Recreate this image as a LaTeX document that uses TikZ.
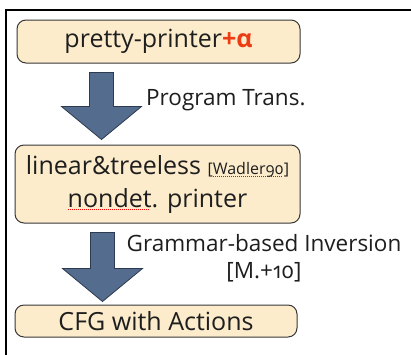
\documentclass[tikz,border=0pt]{standalone}
\usepackage{fontspec}
\setmainfont{Open Sans}[Numbers=OldStyle]
\usetikzlibrary{calc}

\definecolor{boxfill}{RGB}{252,236,204}
\definecolor{boxline}{RGB}{55,55,55}
\definecolor{arrowfill}{RGB}{84,108,142}
\definecolor{arrowline}{RGB}{45,58,80}
\definecolor{alphared}{RGB}{235,60,20}
\definecolor{inktext}{RGB}{30,30,30}

\tikzset{
  stage/.style={draw=boxline, fill=boxfill, rounded corners=9pt, line width=1pt,
    align=center, text=inktext, font=\fontsize{25}{33}\selectfont, inner sep=0pt},
  bigarrow/.style={draw=arrowline, fill=arrowfill, line width=.8pt, line join=miter},
  trans/.style={text=inktext, font=\fontsize{22.5}{27}\selectfont, inner sep=0pt}
}

% red dotted spell-check underline under a word
\newcommand{\typo}[1]{\setbox0\hbox{#1}\rlap{\raisebox{-3pt}{\color{red}\leaders\hbox to 2pt{\hss\rule{1pt}{.7pt}\hss}\hskip\wd0}}\box0}

% block arrow: #1 top of the shaft, #2 tip
\newcommand{\blockarrow}[2]{%
  \draw[bigarrow] ($(#1)+(-12,0)$) -- ($(#1)+(12,0)$) -- ($(#2)+(12,-33)$) -- ($(#2)+(40,-33)$)
    -- (#2) -- ($(#2)+(-40,-33)$) -- ($(#2)+(-12,-33)$) -- cycle;}

\begin{document}
\begin{tikzpicture}[x=1pt,y=-1pt]
  \useasboundingbox (0,0) rectangle (411,354);
  \draw[line width=2pt] (420,10) -- (6,10) -- (6,360);

  \node[stage, minimum width=283pt, minimum height=43pt] (pp) at (158.5,41.5)
    {pretty-printer{\color{alphared}\bfseries+α}};
  \node[stage, minimum width=285pt, minimum height=78pt] (lt) at (157.5,184)
    {linear\&treeless {\fontsize{16}{16}\selectfont[\typo{Wadler90}]}\\\typo{nondet}. printer};
  \node[stage, minimum width=282pt, minimum height=32pt] (cfg) at (156,321) {CFG with Actions};

  \coordinate (a1s) at ($(pp.south west)+(85,9)$);
  \coordinate (a1t) at ($(lt.north west)+(87,-5)$);
  \coordinate (a2s) at ($(lt.south west)+(88,9)$);
  \coordinate (a2t) at ($(cfg.north west)+(88,-3)$);
  \blockarrow{a1s}{a1t}
  \blockarrow{a2s}{a2t}

  \node[trans, anchor=west] (pt) at (146,100) {Program Trans.};
  \node[trans, align=center] (gi) at (264,258) {Grammar-based Inversion\\{}[M.+10]};
\end{tikzpicture}
\end{document}
